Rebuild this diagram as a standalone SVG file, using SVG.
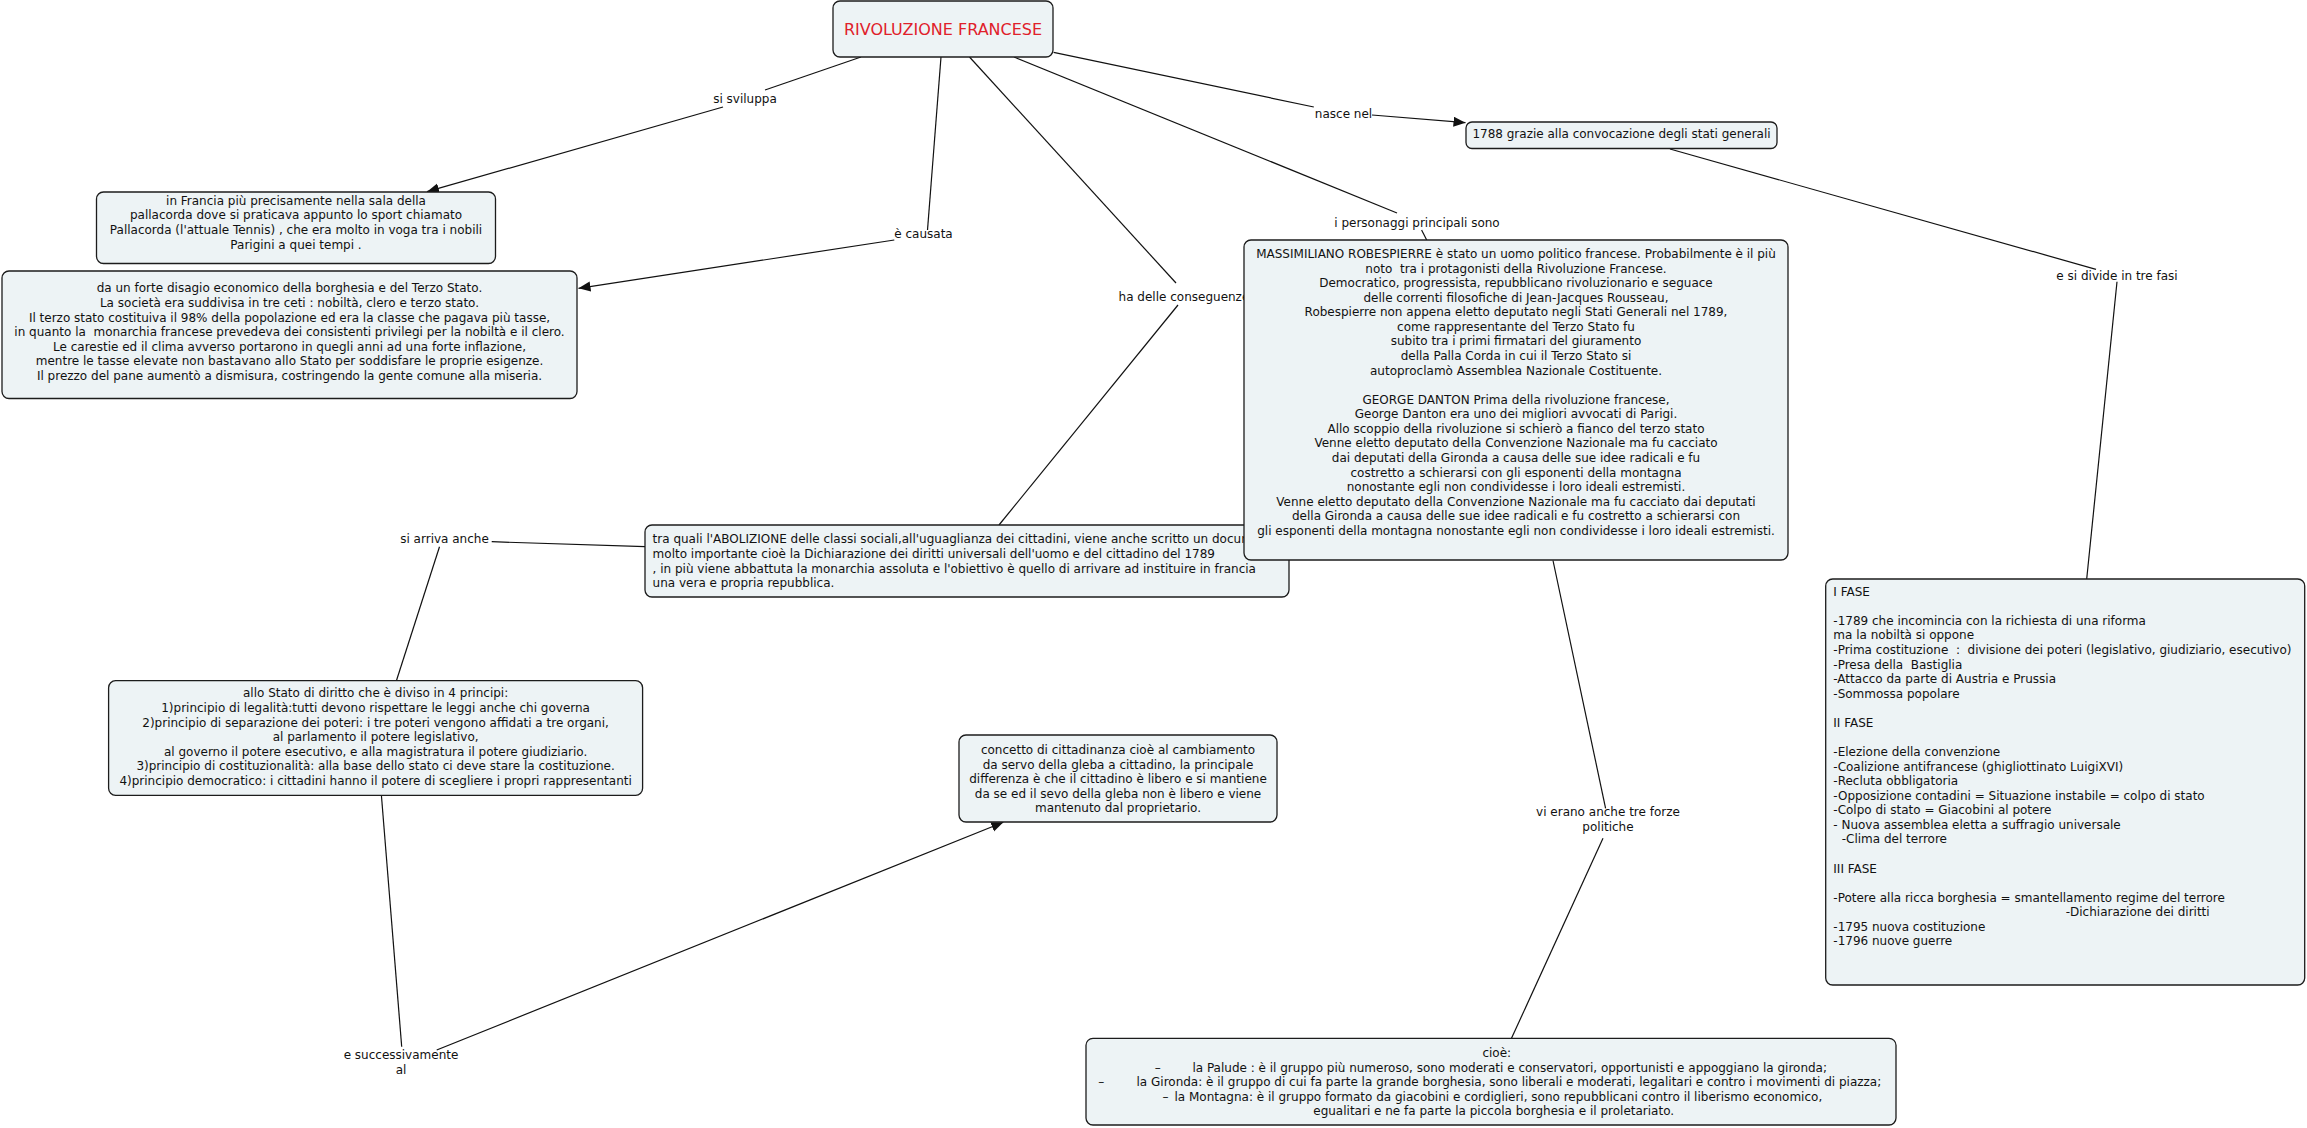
<svg xmlns="http://www.w3.org/2000/svg" width="2307" height="1128" viewBox="0 0 2307 1128">
<style>
text{font-family:"DejaVu Sans",Verdana,sans-serif;font-size:12px;fill:#111}
.c{text-anchor:middle}
.node rect{fill:#edf3f5;stroke:#1c1c1c;stroke-width:1.3}
.conn line{stroke:#111;stroke-width:1.2;fill:none}
.arr{marker-end:url(#ah)}
.title{font-size:16px;fill:#e0202a}
</style>
<defs>
<marker id="ah" markerUnits="userSpaceOnUse" markerWidth="13" markerHeight="11" refX="12" refY="5" orient="auto"><path d="M0,0 L12,5 L0,10 z" fill="#111"/></marker>
</defs>
<rect width="2307" height="1128" fill="#fff"/>
<g id="connectors" class="conn">
<line x1="861" y1="57" x2="765" y2="90"/>
<line class="arr" x1="723" y1="107" x2="427" y2="191.7"/>
<line x1="941" y1="57" x2="927.5" y2="230"/>
<line class="arr" x1="894.3" y1="240" x2="578.5" y2="288.3"/>
<line x1="969.5" y1="57" x2="1176" y2="283"/>
<line x1="1178" y1="305" x2="999" y2="525"/>
<line x1="1014" y1="57" x2="1397" y2="213"/>
<line x1="1421.6" y1="230" x2="1426.7" y2="240"/>
<line x1="1053.6" y1="52.3" x2="1313.8" y2="107"/>
<line class="arr" x1="1372" y1="115" x2="1465.5" y2="122.7"/>
<line x1="1670" y1="149" x2="2096" y2="269.3"/>
<line x1="2117" y1="281.7" x2="2086.7" y2="579"/>
<line x1="645" y1="546.7" x2="491.7" y2="541.7"/>
<line x1="439.5" y1="546.7" x2="396.4" y2="680.7"/>
<line x1="381.4" y1="795.3" x2="401.7" y2="1046.7"/>
<line class="arr" x1="436.7" y1="1050" x2="1003.3" y2="822.3"/>
<line x1="1553" y1="560.5" x2="1605.6" y2="808.3"/>
<line x1="1603" y1="838.3" x2="1511.5" y2="1038.3"/>
<text class="c" x="745" y="102.5">si sviluppa</text>
<text class="c" x="923.5" y="238">è causata</text>
<text x="1118.6" y="301">ha delle conseguenze</text>
<text class="c" x="1417" y="227.3">i personaggi principali sono</text>
<text class="c" x="1343.5" y="118.3">nasce nel</text>
<text class="c" x="2117" y="280">e si divide in tre fasi</text>
<text class="c" x="444.5" y="543.3">si arriva anche</text>
<text class="c" x="1608" y="816.3">vi erano anche tre forze</text>
<text class="c" x="1608" y="830.7">politiche</text>
<text class="c" x="401" y="1059">e successivamente</text>
<text class="c" x="401" y="1074">al</text>
</g>
<g id="n1" class="node">
<rect x="833" y="1" width="220" height="56" rx="7"/>
<text class="c title" x="943" y="35">RIVOLUZIONE FRANCESE</text>
</g>
<g id="n2" class="node">
<rect x="1466" y="122" width="311" height="26.5" rx="6"/>
<text class="c" x="1621.5" y="138.3">1788 grazie alla convocazione degli stati generali</text>
</g>
<g id="n3" class="node">
<rect x="96.5" y="192" width="399" height="71.5" rx="7"/>
<text class="c" x="296" y="204.7">in Francia più precisamente nella sala della</text>
<text class="c" x="296" y="219.3">pallacorda dove si praticava appunto lo sport chiamato</text>
<text class="c" x="296" y="233.9">Pallacorda (l'attuale Tennis) , che era molto in voga tra i nobili</text>
<text class="c" x="296" y="248.5">Parigini a quei tempi .</text>
</g>
<g id="n4" class="node">
<rect x="2" y="271" width="575" height="127.5" rx="7"/>
<text class="c" x="289.5" y="292.3">da un forte disagio economico della borghesia e del Terzo Stato.</text>
<text class="c" x="289.5" y="306.9">La società era suddivisa in tre ceti : nobiltà, clero e terzo stato.</text>
<text class="c" x="289.5" y="321.5">Il terzo stato costituiva il 98% della popolazione ed era la classe che pagava più tasse,</text>
<text class="c" x="289.5" y="336.1" xml:space="preserve">in quanto la  monarchia francese prevedeva dei consistenti privilegi per la nobiltà e il clero.</text>
<text class="c" x="289.5" y="350.7">Le carestie ed il clima avverso portarono in quegli anni ad una forte inflazione,</text>
<text class="c" x="289.5" y="365.3">mentre le tasse elevate non bastavano allo Stato per soddisfare le proprie esigenze.</text>
<text class="c" x="289.5" y="379.9">Il prezzo del pane aumentò a dismisura, costringendo la gente comune alla miseria.</text>
</g>
<g id="n6" class="node">
<rect x="645" y="525" width="644" height="72" rx="7"/>
<text x="652.6" y="543.3">tra quali l'ABOLIZIONE delle classi sociali,all'uguaglianza dei cittadini, viene anche scritto un documento</text>
<text x="652.6" y="557.9">molto importante cioè la Dichiarazione dei diritti universali dell'uomo e del cittadino del 1789</text>
<text x="652.6" y="572.5">, in più viene abbattuta la monarchia assoluta e l'obiettivo è quello di arrivare ad instituire in francia</text>
<text x="652.6" y="587.1">una vera e propria repubblica.</text>
</g>
<g id="n5" class="node">
<rect x="1244" y="240" width="544" height="320" rx="7"/>
<text class="c" x="1516" y="258">MASSIMILIANO ROBESPIERRE è stato un uomo politico francese. Probabilmente è il più</text>
<text class="c" x="1516" y="272.6" xml:space="preserve">noto  tra i protagonisti della Rivoluzione Francese.</text>
<text class="c" x="1516" y="287.1">Democratico, progressista, repubblicano rivoluzionario e seguace</text>
<text class="c" x="1516" y="301.7">delle correnti filosofiche di Jean-Jacques Rousseau,</text>
<text class="c" x="1516" y="316.3">Robespierre non appena eletto deputato negli Stati Generali nel 1789,</text>
<text class="c" x="1516" y="330.9">come rappresentante del Terzo Stato fu</text>
<text class="c" x="1516" y="345.4">subito tra i primi firmatari del giuramento</text>
<text class="c" x="1516" y="360">della Palla Corda in cui il Terzo Stato si</text>
<text class="c" x="1516" y="374.6">autoproclamò Assemblea Nazionale Costituente.</text>
<text class="c" x="1516" y="403.7">GEORGE DANTON Prima della rivoluzione francese,</text>
<text class="c" x="1516" y="418.3">George Danton era uno dei migliori avvocati di Parigi.</text>
<text class="c" x="1516" y="432.9">Allo scoppio della rivoluzione si schierò a fianco del terzo stato</text>
<text class="c" x="1516" y="447.4">Venne eletto deputato della Convenzione Nazionale ma fu cacciato</text>
<text class="c" x="1516" y="462">dai deputati della Gironda a causa delle sue idee radicali e fu</text>
<text class="c" x="1516" y="476.6">costretto a schierarsi con gli esponenti della montagna</text>
<text class="c" x="1516" y="491.1">nonostante egli non condividesse i loro ideali estremisti.</text>
<text class="c" x="1516" y="505.7">Venne eletto deputato della Convenzione Nazionale ma fu cacciato dai deputati</text>
<text class="c" x="1516" y="520.3">della Gironda a causa delle sue idee radicali e fu costretto a schierarsi con</text>
<text class="c" x="1516" y="534.9">gli esponenti della montagna nonostante egli non condividesse i loro ideali estremisti.</text>
</g>
<g id="n7" class="node">
<rect x="108.6" y="680.7" width="534" height="114.6" rx="7"/>
<text class="c" x="375.6" y="697.3">allo Stato di diritto che è diviso in 4 principi:</text>
<text class="c" x="375.6" y="711.9">1)principio di legalità:tutti devono rispettare le leggi anche chi governa</text>
<text class="c" x="375.6" y="726.5">2)principio di separazione dei poteri: i tre poteri vengono affidati a tre organi,</text>
<text class="c" x="375.6" y="741.1">al parlamento il potere legislativo,</text>
<text class="c" x="375.6" y="755.7">al governo il potere esecutivo, e alla magistratura il potere giudiziario.</text>
<text class="c" x="375.6" y="770.3">3)principio di costituzionalità: alla base dello stato ci deve stare la costituzione.</text>
<text class="c" x="375.6" y="784.9">4)principio democratico: i cittadini hanno il potere di scegliere i propri rappresentanti</text>
</g>
<g id="n8" class="node">
<rect x="959" y="735" width="318" height="87" rx="7"/>
<text class="c" x="1118" y="754">concetto di cittadinanza cioè al cambiamento</text>
<text class="c" x="1118" y="768.6">da servo della gleba a cittadino, la principale</text>
<text class="c" x="1118" y="783.2">differenza è che il cittadino è libero e si mantiene</text>
<text class="c" x="1118" y="797.8">da se ed il sevo della gleba non è libero e viene</text>
<text class="c" x="1118" y="812.4">mantenuto dal proprietario.</text>
</g>
<g id="n9" class="node">
<rect x="1825.7" y="579" width="479" height="406" rx="7"/>
<text x="1833.3" y="595.7">I FASE</text>
<text x="1833.3" y="624.8">-1789 che incomincia con la richiesta di una riforma</text>
<text x="1833.3" y="639.4">ma la nobiltà si oppone</text>
<text x="1833.3" y="654" xml:space="preserve">-Prima costituzione  :  divisione dei poteri (legislativo, giudiziario, esecutivo)</text>
<text x="1833.3" y="668.5" xml:space="preserve">-Presa della  Bastiglia</text>
<text x="1833.3" y="683.1">-Attacco da parte di Austria e Prussia</text>
<text x="1833.3" y="697.7">-Sommossa popolare</text>
<text x="1833.3" y="726.8">II FASE</text>
<text x="1833.3" y="756">-Elezione della convenzione</text>
<text x="1833.3" y="770.5">-Coalizione antifrancese (ghigliottinato LuigiXVI)</text>
<text x="1833.3" y="785.1">-Recluta obbligatoria</text>
<text x="1833.3" y="799.7">-Opposizione contadini = Situazione instabile = colpo di stato</text>
<text x="1833.3" y="814.2">-Colpo di stato = Giacobini al potere</text>
<text x="1833.3" y="828.8">- Nuova assemblea eletta a suffragio universale</text>
<text x="1841.7" y="843.4">-Clima del terrore</text>
<text x="1833.3" y="872.5">III FASE</text>
<text x="1833.3" y="901.7">-Potere alla ricca borghesia = smantellamento regime del terrore</text>
<text x="2065.7" y="916.2">-Dichiarazione dei diritti</text>
<text x="1833.3" y="930.8">-1795 nuova costituzione</text>
<text x="1833.3" y="945.4">-1796 nuove guerre</text>
</g>
<g id="n10" class="node">
<rect x="1086" y="1038.3" width="810" height="86.7" rx="7"/>
<text class="c" x="1496.8" y="1057.3">cioè:</text>
<text x="1154.8" y="1071.7">–</text>
<text x="1192.4" y="1071.7">la Palude : è il gruppo più numeroso, sono moderati e conservatori, opportunisti e appoggiano la gironda;</text>
<text x="1098.3" y="1086">–</text>
<text x="1136.5" y="1086">la Gironda: è il gruppo di cui fa parte la grande borghesia, sono liberali e moderati, legalitari e contro i movimenti di piazza;</text>
<text x="1162.6" y="1100.7">–</text>
<text x="1174.5" y="1100.7">la Montagna: è il gruppo formato da giacobini e cordiglieri, sono repubblicani contro il liberismo economico,</text>
<text class="c" x="1493.7" y="1115">egualitari e ne fa parte la piccola borghesia e il proletariato.</text>
</g>
</svg>
